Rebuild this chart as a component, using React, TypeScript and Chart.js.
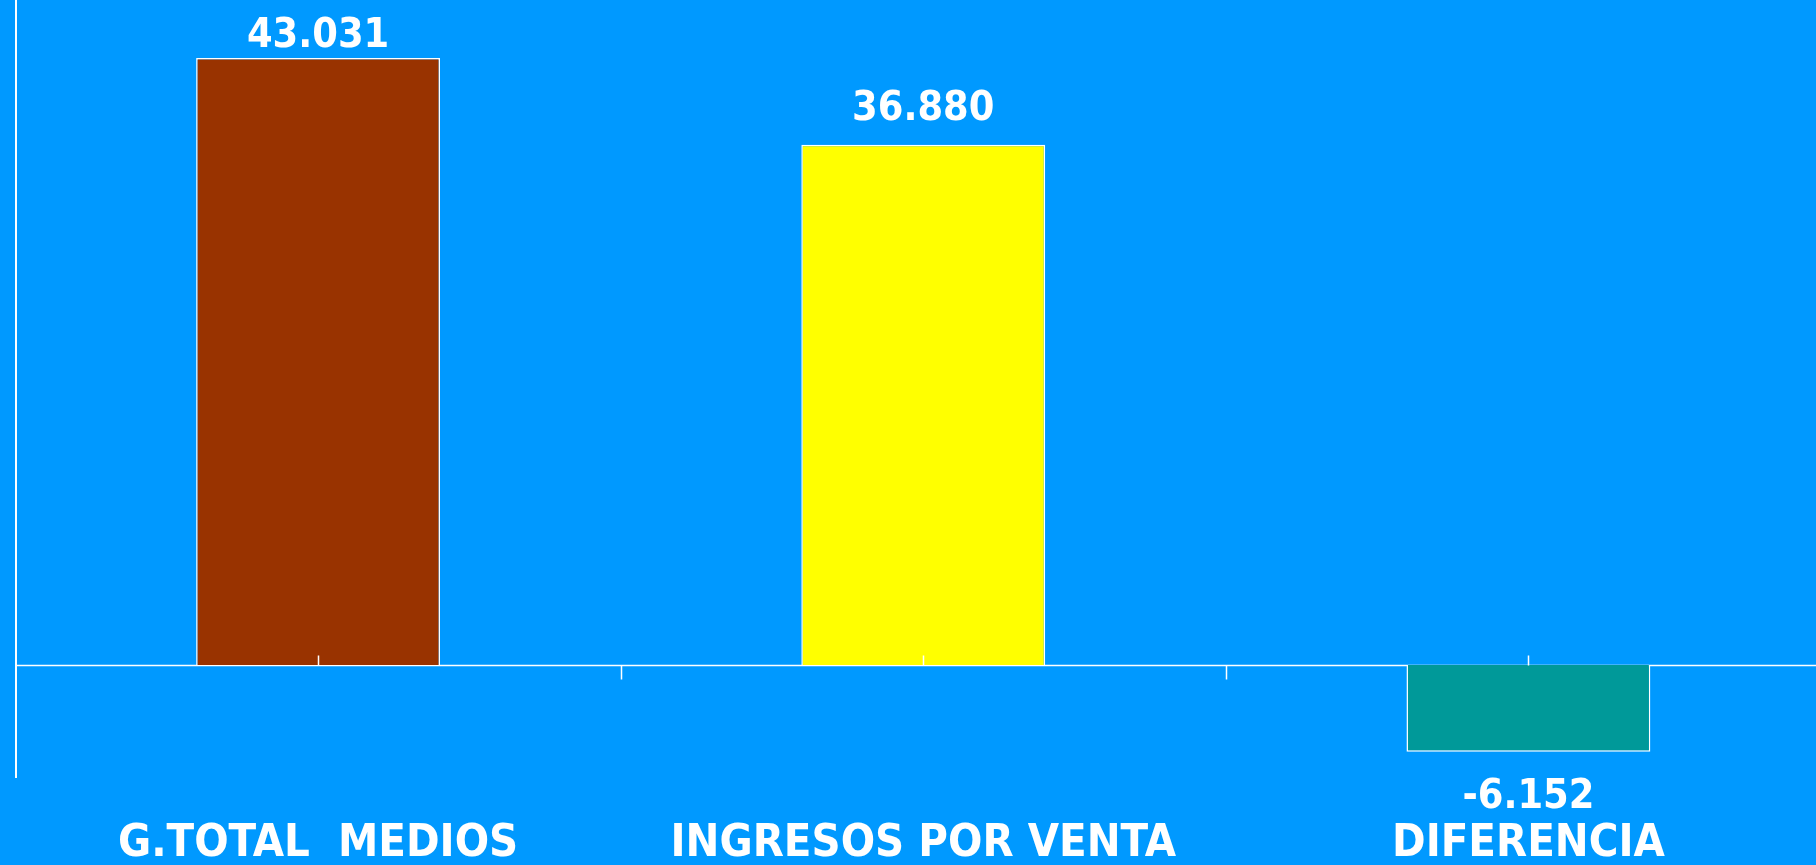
import React, { useEffect, useRef } from "react";
import { Chart, registerables } from "chart.js";

Chart.register(...registerables);

const categories = ["G.TOTAL  MEDIOS", "INGRESOS POR VENTA", "DIFERENCIA"];
const values = [43031, 36880, -6152];
const barColors = ["#993300", "#FFFF00", "#009999"];
const yMin = -7940;
const yMax = 47143;

const FONT_FAMILY = '"DejaVu Sans Condensed", "DejaVu Sans", sans-serif';

function fmt(v: number): string {
  const s = Math.abs(v)
    .toString()
    .replace(/\B(?=(\d{3})+(?!\d))/g, ".");
  return (v < 0 ? "-" : "") + s;
}

const annotPlugin = {
  id: "annot",
  beforeDatasetsDraw(chart: any) {
    const ctx = chart.ctx;
    const ys = chart.scales.y;
    const area = chart.chartArea;
    const y0 = Math.round(ys.getPixelForValue(0)) + 0.5;
    ctx.save();
    ctx.strokeStyle = "#ffffff";
    ctx.lineWidth = 1.5;
    ctx.beginPath();
    ctx.moveTo(area.left, y0);
    ctx.lineTo(area.right, y0);
    ctx.stroke();
    ctx.restore();
  },
  afterDatasetsDraw(chart: any) {
    const ctx = chart.ctx;
    const xs = chart.scales.x;
    const ys = chart.scales.y;
    const y0 = Math.round(ys.getPixelForValue(0)) + 0.5;
    ctx.save();
    ctx.strokeStyle = "#ffffff";
    ctx.lineWidth = 1.5;
    ctx.beginPath();
    for (let i = 0; i < categories.length; i++) {
      const cx = Math.round(xs.getPixelForValue(i)) + 0.5;
      ctx.moveTo(cx, y0 - 10);
      ctx.lineTo(cx, y0);
    }
    for (let i = 1; i < categories.length; i++) {
      const bx =
        Math.round((xs.getPixelForValue(i - 1) + xs.getPixelForValue(i)) / 2) + 0.5;
      ctx.moveTo(bx, y0);
      ctx.lineTo(bx, y0 + 14);
    }
    ctx.stroke();

    const meta = chart.getDatasetMeta(0);
    ctx.font = "bold 41px " + FONT_FAMILY;
    ctx.fillStyle = "#ffffff";
    ctx.textAlign = "center";
    ctx.textBaseline = "middle";
    meta.data.forEach((el: any, i: number) => {
      const v = values[i];
      const ty = v >= 0 ? Math.max(el.y - 35, 36) : el.y + 46;
      ctx.fillText(fmt(v), el.x, ty);
    });
    ctx.restore();
  },
};

export default function App() {
  const canvasRef = useRef<HTMLCanvasElement | null>(null);

  useEffect(() => {
    if (!canvasRef.current) return;
    const chart = new Chart(canvasRef.current, {
      type: "bar",
      data: {
        labels: categories,
        datasets: [
          {
            data: values,
            backgroundColor: barColors,
            borderColor: "#ffffff",
            borderWidth: 1.5,
            categoryPercentage: 1,
            barPercentage: 0.403,
          },
        ],
      },
      plugins: [annotPlugin],
      options: {
        responsive: false,
        animation: false,
        layout: { padding: { left: 15.5, right: 0, top: 0, bottom: 0 } },
        plugins: {
          legend: { display: false },
          tooltip: { enabled: false },
        },
        scales: {
          x: {
            grid: { display: false, drawTicks: false },
            border: { display: false },
            ticks: {
              color: "#ffffff",
              font: { family: FONT_FAMILY, size: 45, weight: "bold" },
              padding: 40,
              maxRotation: 0,
              autoSkip: false,
            },
            afterFit(scale: any) {
              scale.height = 88;
            },
          },
          y: {
            min: yMin,
            max: yMax,
            ticks: { display: false },
            grid: { display: false, drawTicks: false },
            border: { display: true, color: "#ffffff", width: 2 },
            afterFit(scale: any) {
              scale.width = 0;
            },
          },
        },
      },
    } as any);
    return () => chart.destroy();
  }, []);

  return (
    <div
      style={{
        position: "fixed",
        left: 0,
        top: 0,
        width: 1816,
        height: 865,
        overflow: "hidden",
        background: "#0099FF",
      }}
    >
      <canvas
        ref={canvasRef}
        width={1831}
        height={865}
        style={{ display: "block", width: 1831, height: 865 }}
      />
    </div>
  );
}
